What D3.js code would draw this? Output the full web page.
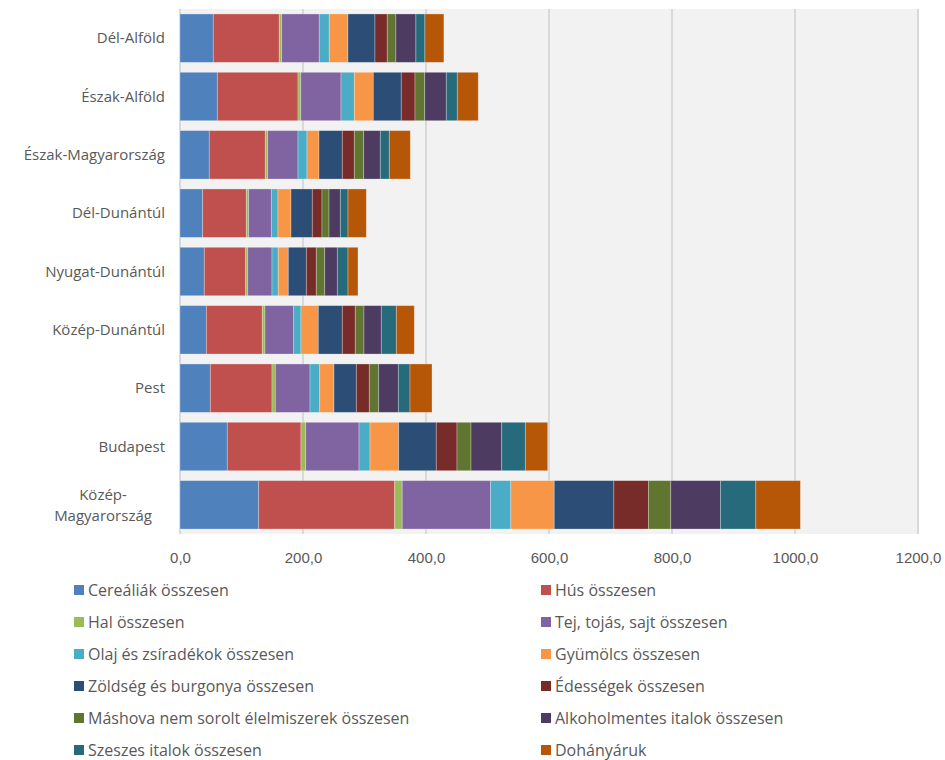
<!DOCTYPE html>
<html lang="hu">
<head>
  <meta charset="UTF-8">
  <title>Régiók kiadásai</title>
  <script src="https://d3js.org/d3.v7.min.js"></script>
  <style>
    body {
      margin: 0;
      background: #fff;
      font-family: "Open Sans", "Noto Sans", sans-serif;
    }
    svg text {
      fill: #595959;
      font-size: 15px;
    }
    .legend text {
      font-size: 16px;
    }
  </style>
</head>
<body>
  <svg id="chart" width="945" height="760"></svg>

  <script>
    // Régiók (fentről lefelé)
    const regions = ["Dél-Alföld", "Észak-Alföld", "Észak-Magyarország", "Dél-Dunántúl",
      "Nyugat-Dunántúl", "Közép-Dunántúl", "Pest", "Budapest", "Közép-Magyarország"];

    const seriesNames = ["Cereáliák összesen", "Hús összesen", "Hal összesen",
      "Tej, tojás, sajt összesen", "Olaj és zsíradékok összesen", "Gyümölcs összesen",
      "Zöldség és burgonya összesen", "Édességek összesen",
      "Máshova nem sorolt élelmiszerek összesen", "Alkoholmentes italok összesen",
      "Szeszes italok összesen", "Dohányáruk"];

    const colors = ["#4F81BD", "#C0504D", "#9BBB59", "#8064A2", "#4BACC6", "#F79646",
      "#2C4D75", "#772C2A", "#5F7530", "#4D3B62", "#276A7C", "#B65708"];

    // értékek régiónként, a sorozatok sorrendjében
    const cereals     = [54.1, 60.7, 47.6, 36.9, 39.5, 42.8, 49.3, 76.9, 128.0];
    const meat        = [107.3, 131.2, 91.1, 70.9, 67.3, 91.0, 100.3, 119.8, 221.1];
    const fish        = [3.9, 4.4, 3.9, 3.9, 3.3, 4.4, 5.4, 7.7, 12.2];
    const dairy       = [61.1, 65.5, 49.3, 36.8, 39.5, 46.7, 56.4, 86.7, 143.7];
    const oil         = [16.3, 21.6, 14.6, 10.8, 10.2, 11.8, 15.8, 17.9, 32.9];
    const fruit       = [30.4, 30.9, 19.5, 21.2, 16.3, 28.2, 23.2, 46.6, 70.6];
    const vegetables  = [43.9, 45.5, 37.9, 34.6, 29.3, 39.0, 36.3, 61.1, 97.0];
    const sweets      = [20.0, 22.3, 19.5, 15.8, 16.2, 21.1, 21.1, 33.7, 56.1];
    const otherFood   = [14.1, 15.8, 15.3, 11.4, 13.7, 14.2, 15.3, 22.8, 36.4];
    const softDrinks  = [32.5, 35.1, 27.0, 18.4, 20.5, 28.1, 31.9, 49.9, 80.7];
    const alcohol     = [14.6, 17.9, 14.6, 12.5, 17.4, 24.4, 19.0, 38.4, 57.6];
    const tobacco     = [30.9, 34.1, 34.2, 29.8, 16.2, 29.3, 35.8, 36.4, 72.5];

    const seriesValues = [cereals, meat, fish, dairy, oil, fruit, vegetables, sweets,
      otherFood, softDrinks, alcohol, tobacco];

    const xTicks = [0, 200, 400, 600, 800, 1000, 1200];

    const rows = regions.map((r, i) => {
      const row = { region: r };
      seriesNames.forEach((s, j) => { row[s] = seriesValues[j][i]; });
      return row;
    });

    const stacked = d3.stack().keys(seriesNames)(rows);

    const svg = d3.select("#chart");
    const margin = { top: 9, left: 180, right: 27, bottom: 226 };
    const width = 945 - margin.left - margin.right;
    const height = 760 - margin.top - margin.bottom;

    const x = d3.scaleLinear().domain([0, 1200]).range([0, width]);
    const y = d3.scaleBand().domain(regions).range([0, height]).paddingInner(0.17).paddingOuter(0.085);

    const g = svg.append("g").attr("transform", `translate(${margin.left},${margin.top})`);

    // szürke rajzterület
    g.append("rect")
      .attr("width", width)
      .attr("height", height)
      .attr("fill", "#f2f2f2");

    // rácsvonalak
    g.append("g")
      .selectAll("line")
      .data(xTicks)
      .join("line")
      .attr("x1", d => x(d))
      .attr("x2", d => x(d))
      .attr("y1", 0)
      .attr("y2", height)
      .attr("stroke", "#d9d9d9")
      .attr("stroke-width", 2);

    // oszlopok
    g.append("g")
      .selectAll("g")
      .data(stacked)
      .join("g")
      .attr("fill", (d, i) => colors[i])
      .selectAll("rect")
      .data(d => d)
      .join("rect")
      .attr("x", d => x(d[0]))
      .attr("y", d => y(d.data.region))
      .attr("width", d => x(d[1]) - x(d[0]))
      .attr("height", y.bandwidth())
      .attr("stroke", "rgba(255,255,255,0.35)")
      .attr("stroke-width", 0.8);

    // x tengely feliratai
    const xAxis = d3.axisBottom(x)
      .tickValues(xTicks)
      .tickSize(0)
      .tickPadding(18)
      .tickFormat(d => d3.format(".1f")(d).replace(".", ","));

    g.append("g")
      .attr("transform", `translate(0,${height})`)
      .call(xAxis)
      .call(a => a.select(".domain").remove())
      .selectAll("text")
      .style("font-size", "15px")
      .style("font-family", "inherit");

    // y tengely (régiónevek)
    const yLabels = g.append("g")
      .selectAll("text")
      .data(regions)
      .join("text")
      .attr("x", -15)
      .attr("y", d => y(d) + y.bandwidth() / 2)
      .attr("text-anchor", "end");

    yLabels.each(function (d) {
      const t = d3.select(this);
      if (d === "Közép-Magyarország") {
        t.attr("text-anchor", "middle").attr("x", -77);
        t.append("tspan").attr("x", -77).attr("dy", "-0.35em").text("Közép-");
        t.append("tspan").attr("x", -77).attr("dy", "1.4em").text("Magyarország");
      } else {
        t.attr("dy", "0.35em").text(d);
      }
    });

    // jelmagyarázat
    const legend = svg.append("g").attr("class", "legend").attr("transform", "translate(74,584)");
    const item = legend.selectAll("g")
      .data(seriesNames)
      .join("g")
      .attr("transform", (d, i) => `translate(${(i % 2) * 467},${Math.floor(i / 2) * 32})`);

    item.append("rect")
      .attr("width", 10)
      .attr("height", 10)
      .attr("y", 1)
      .attr("fill", (d, i) => colors[i]);

    item.append("text")
      .attr("x", 14)
      .attr("y", 6)
      .attr("dy", "0.35em")
      .text(d => d);
  </script>
</body>
</html>
